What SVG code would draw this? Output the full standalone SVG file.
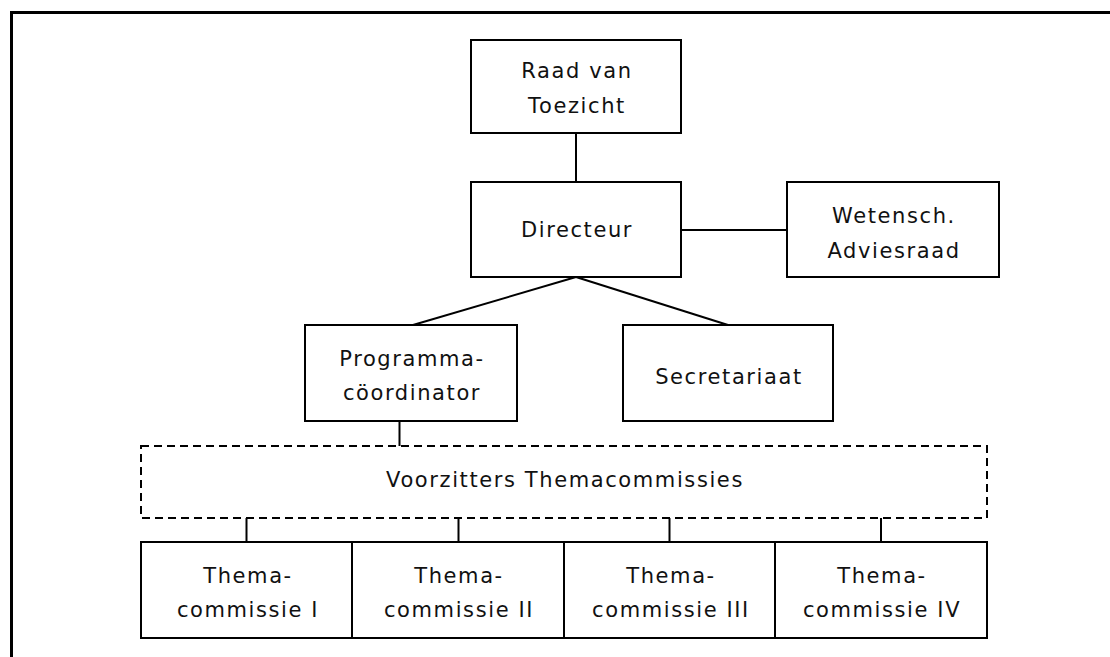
<svg xmlns="http://www.w3.org/2000/svg" width="1110" height="657" viewBox="0 0 1110 657">
<style>
.box{fill:#fff;stroke:#000;stroke-width:2}
.dash{fill:#fff;stroke:#000;stroke-width:2;stroke-dasharray:8 5}
.ln{stroke:#000;stroke-width:2;fill:none}
text{font-family:"DejaVu Sans","Liberation Sans",sans-serif;font-size:21px;letter-spacing:1.6px;fill:#111;text-anchor:middle}
</style>
<rect width="1110" height="657" fill="#fff"/>
<path d="M11.5 657 V12.5 H1110" fill="none" stroke="#000" stroke-width="3"/>
<g id="connectors">
<line class="ln" x1="576" y1="133" x2="576" y2="182"/>
<line class="ln" x1="681" y1="230" x2="787" y2="230"/>
<line class="ln" x1="576" y1="277" x2="413" y2="325"/>
<line class="ln" x1="576" y1="277" x2="728" y2="325"/>
<line class="ln" x1="399.5" y1="421" x2="399.5" y2="446"/>
<line class="ln" x1="246.5" y1="518" x2="246.5" y2="542"/>
<line class="ln" x1="458.5" y1="518" x2="458.5" y2="542"/>
<line class="ln" x1="669.5" y1="518" x2="669.5" y2="542"/>
<line class="ln" x1="881" y1="518" x2="881" y2="542"/>
</g>
<g id="raad"><rect class="box" x="471" y="40" width="210" height="93"/><text x="577" y="78">Raad van</text><text x="577" y="113">Toezicht</text></g>
<g id="directeur"><rect class="box" x="471" y="182" width="210" height="95"/><text x="577" y="237">Directeur</text></g>
<g id="wetensch"><rect class="box" x="787" y="182" width="212" height="95"/><text x="894" y="223">Wetensch.</text><text x="894" y="258">Adviesraad</text></g>
<g id="programma"><rect class="box" x="305" y="325" width="212" height="96"/><text x="412" y="366">Programma-</text><text x="412" y="400">cöordinator</text></g>
<g id="secretariaat"><rect class="box" x="623" y="325" width="210" height="96"/><text x="729" y="384">Secretariaat</text></g>
<g id="voorzitters"><rect class="dash" x="141" y="446" width="846" height="72"/><text x="565" y="487">Voorzitters Themacommissies</text></g>
<g id="thema1"><rect class="box" x="141" y="542" width="211" height="96"/><text x="248" y="583">Thema-</text><text x="248" y="617">commissie I</text></g>
<g id="thema2"><rect class="box" x="352" y="542" width="212" height="96"/><text x="459" y="583">Thema-</text><text x="459" y="617">commissie II</text></g>
<g id="thema3"><rect class="box" x="564" y="542" width="211" height="96"/><text x="671" y="583">Thema-</text><text x="671" y="617">commissie III</text></g>
<g id="thema4"><rect class="box" x="775" y="542" width="212" height="96"/><text x="882" y="583">Thema-</text><text x="882" y="617">commissie IV</text></g>
</svg>
